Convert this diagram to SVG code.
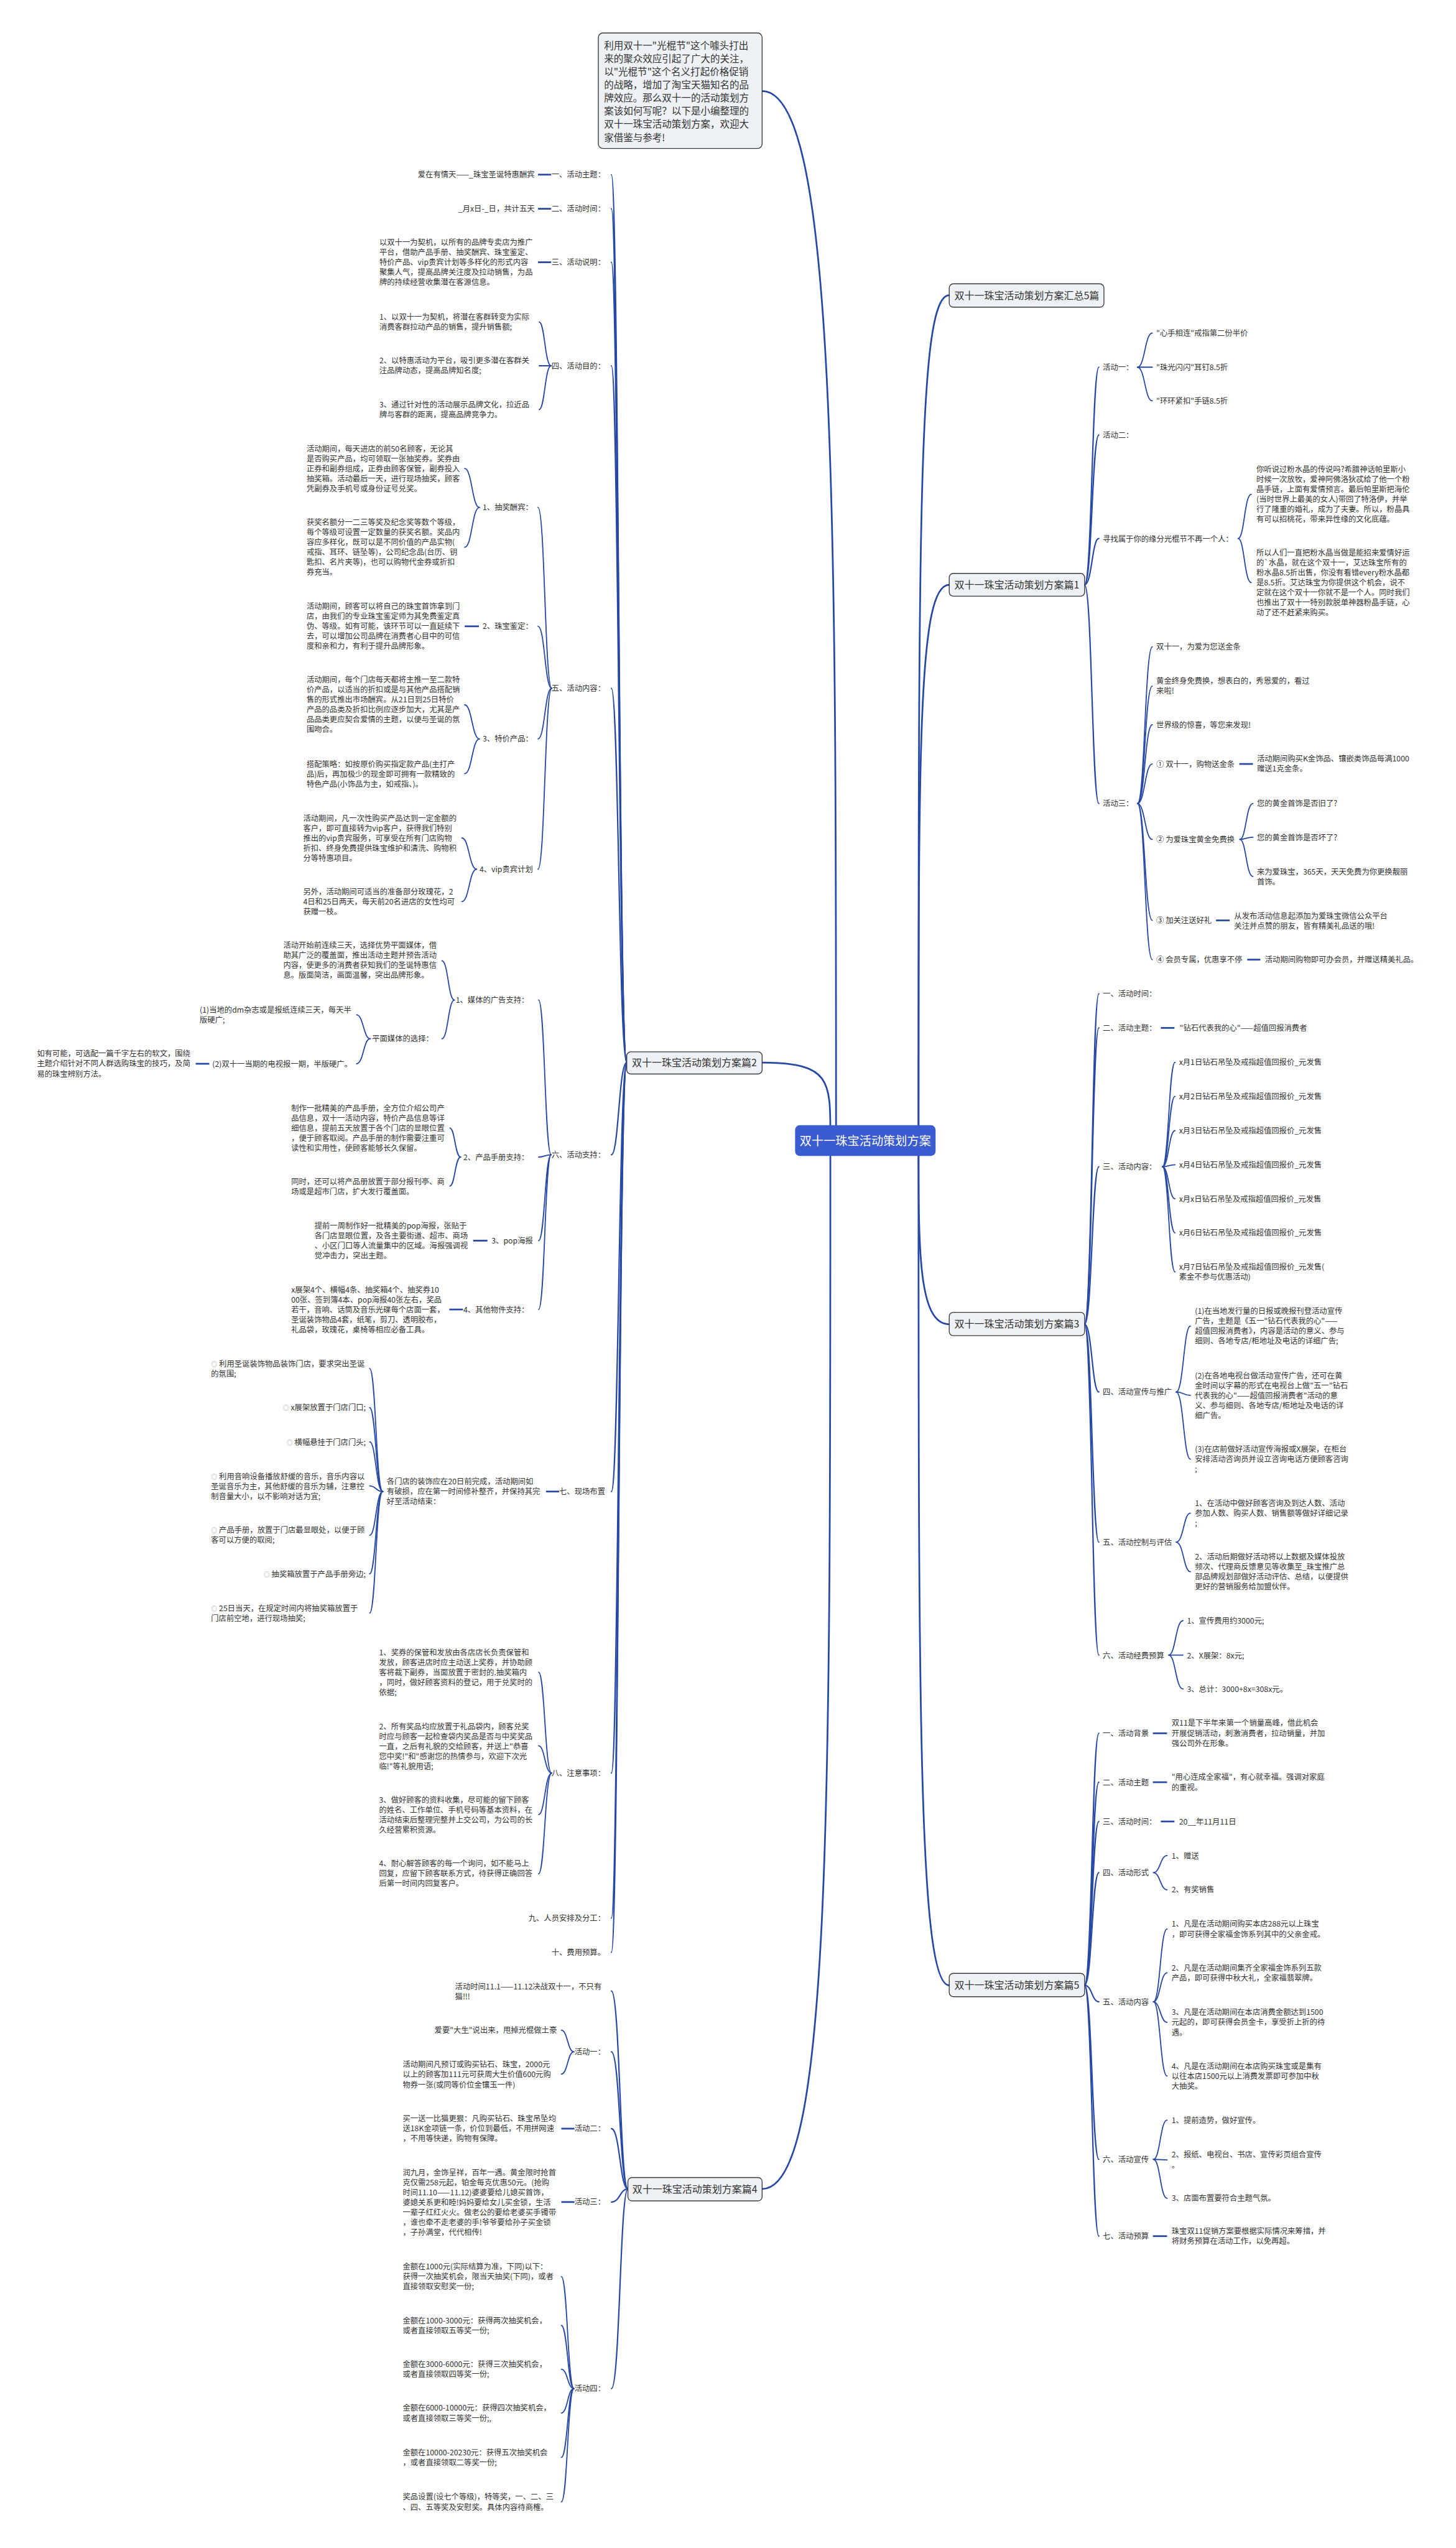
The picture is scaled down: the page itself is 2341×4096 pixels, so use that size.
<svg xmlns="http://www.w3.org/2000/svg" width="2341" height="4096" viewBox="0 0 2341 4096">
<style>
.t{font-family:"Noto Sans CJK SC","Noto Sans",sans-serif;font-size:13.5px;fill:#333}
.e{text-anchor:end}
.bt{font-family:"Noto Sans CJK SC","Noto Sans",sans-serif;font-size:17.5px;fill:#333}
.it{font-family:"Noto Sans CJK SC","Noto Sans",sans-serif;font-size:17px;fill:#333}
.ct{font-family:"Noto Sans CJK SC","Noto Sans",sans-serif;font-size:21px;fill:#fff;text-anchor:middle}
.box{fill:#eef1f5;stroke:#3a3a3a;stroke-width:1.5}
.k{fill:none;stroke:#2748a5;stroke-width:2;stroke-linecap:round}
.k0{fill:none;stroke:#2748a5;stroke-width:3;stroke-linecap:round}
.k1{fill:none;stroke:#2748a5;stroke-width:2.4;stroke-linecap:round}
.kl{fill:none;stroke:#2748a5;stroke-width:3}
.bul{fill:#aaa;font-size:11px}
</style>
<g transform="scale(0.91445)">
<rect width="2560" height="4479" fill="#fff"/>
<g id="connectors">
<path class="k0" d="M1470 2000 C1470 900 1470 160 1340 160"/>
<path class="k0" d="M1615 1995 C1615 900 1615 519 1669 519"/>
<path class="k0" d="M1615 1995 C1615 1300 1615 1028 1669 1028"/>
<path class="k0" d="M1615 2015 C1615 2200 1615 2328 1669 2328"/>
<path class="k0" d="M1615 2015 C1615 3000 1615 3490 1669 3490"/>
<path class="k0" d="M1460 1995 C1460 1900 1460 1868 1340 1868"/>
<path class="k0" d="M1460 2015 C1460 3200 1460 3848 1340 3848"/>
<!-- pian1 -->
<path class="k1" d="M1907 1028 C1920 1028 1920 645.5 1932 645.5"/>
<path class="k1" d="M1907 1028 C1920 1028 1920 764.7 1932 764.7"/>
<path class="k1" d="M1907 1028 C1920 1028 1920 946.7 1932 946.7"/>
<path class="k1" d="M1907 1028 C1920 1028 1920 1412.4 1932 1412.4"/>
<path class="k" d="M2000 645.5 C2013 645.5 2013 585.5 2026 585.5"/>
<path class="k" d="M2000 645.5 L2026 645.5"/>
<path class="k" d="M2000 645.5 C2013 645.5 2013 704.7 2026 704.7"/>
<path class="k" d="M2177 946.7 C2188 946.7 2188 869 2200 869"/>
<path class="k" d="M2177 946.7 C2188 946.7 2188 1024 2200 1024"/>
<path class="k" d="M2000 1412.4 C2013 1412.4 2013 1137 2026 1137"/>
<path class="k" d="M2000 1412.4 C2013 1412.4 2013 1206 2026 1206"/>
<path class="k" d="M2000 1412.4 C2013 1412.4 2013 1274 2026 1274"/>
<path class="k" d="M2000 1412.4 C2013 1412.4 2013 1343 2026 1343"/>
<path class="k" d="M2000 1412.4 C2013 1412.4 2013 1475.6 2026 1475.6"/>
<path class="k" d="M2000 1412.4 C2013 1412.4 2013 1618 2026 1618"/>
<path class="k" d="M2000 1412.4 C2013 1412.4 2013 1687 2026 1687"/>
<path class="kl" d="M2179 1343 L2203 1343"/>
<path class="k" d="M2180 1475.6 C2191 1475.6 2191 1412.4 2203 1412.4"/>
<path class="k" d="M2180 1475.6 C2191 1475.6 2191 1471.7 2203 1471.7"/>
<path class="k" d="M2180 1475.6 C2191 1475.6 2191 1540.7 2203 1540.7"/>
<path class="kl" d="M2138 1618 L2162 1618"/>
<path class="kl" d="M2193 1687 L2216 1687"/>
<!-- pian3 -->
<path class="k1" d="M1907 2328 C1920 2328 1920 1747 1932 1747"/>
<path class="k1" d="M1907 2328 C1920 2328 1920 1807 1932 1807"/>
<path class="k1" d="M1907 2328 C1920 2328 1920 2051 1932 2051"/>
<path class="k1" d="M1907 2328 C1920 2328 1920 2447 1932 2447"/>
<path class="k1" d="M1907 2328 C1920 2328 1920 2711 1932 2711"/>
<path class="k1" d="M1907 2328 C1920 2328 1920 2909.5 1932 2909.5"/>
<path class="kl" d="M2041 1807 L2065 1807"/>
<path class="k" d="M2044 2051 C2055 2051 2055 1867.5 2066 1867.5"/>
<path class="k" d="M2044 2051 C2055 2051 2055 1927.3 2066 1927.3"/>
<path class="k" d="M2044 2051 C2055 2051 2055 1987.5 2066 1987.5"/>
<path class="k" d="M2044 2051 C2055 2051 2055 2047.6 2066 2047.6"/>
<path class="k" d="M2044 2051 C2055 2051 2055 2107.4 2066 2107.4"/>
<path class="k" d="M2044 2051 C2055 2051 2055 2167.2 2066 2167.2"/>
<path class="k" d="M2044 2051 C2055 2051 2055 2236 2066 2236"/>
<path class="k" d="M2068 2447 C2081 2447 2081 2331 2093 2331"/>
<path class="k" d="M2068 2447 C2081 2447 2081 2453 2093 2453"/>
<path class="k" d="M2068 2447 C2081 2447 2081 2565 2093 2565"/>
<path class="k" d="M2068 2711 C2081 2711 2081 2660 2093 2660"/>
<path class="k" d="M2068 2711 C2081 2711 2081 2763 2093 2763"/>
<path class="k" d="M2055 2909.5 C2067 2909.5 2067 2849 2080 2849"/>
<path class="k" d="M2055 2909.5 L2080 2909.5"/>
<path class="k" d="M2055 2909.5 C2067 2909.5 2067 2969 2080 2969"/>
<!-- pian5 -->
<path class="k1" d="M1907 3490 C1920 3490 1920 3047 1932 3047"/>
<path class="k1" d="M1907 3490 C1920 3490 1920 3133 1932 3133"/>
<path class="k1" d="M1907 3490 C1920 3490 1920 3202 1932 3202"/>
<path class="k1" d="M1907 3490 C1920 3490 1920 3292 1932 3292"/>
<path class="k1" d="M1907 3490 C1920 3490 1920 3519 1932 3519"/>
<path class="k1" d="M1907 3490 C1920 3490 1920 3796 1932 3796"/>
<path class="k1" d="M1907 3490 C1920 3490 1920 3931 1932 3931"/>
<path class="kl" d="M2027 3047 L2052 3047"/>
<path class="kl" d="M2027 3133 L2052 3133"/>
<path class="kl" d="M2041 3202 L2065 3202"/>
<path class="k" d="M2028 3292 C2040 3292 2040 3262 2052 3262"/>
<path class="k" d="M2028 3292 C2040 3292 2040 3322 2052 3322"/>
<path class="k" d="M2028 3519 C2040 3519 2040 3391 2052 3391"/>
<path class="k" d="M2028 3519 C2040 3519 2040 3468 2052 3468"/>
<path class="k" d="M2028 3519 C2040 3519 2040 3555 2052 3555"/>
<path class="k" d="M2028 3519 C2040 3519 2040 3649.5 2052 3649.5"/>
<path class="k" d="M2028 3796 C2040 3796 2040 3727 2052 3727"/>
<path class="k" d="M2028 3796 L2052 3797"/>
<path class="k" d="M2028 3796 C2040 3796 2040 3864.5 2052 3864.5"/>
<path class="kl" d="M2027 3931 L2052 3931"/>
<!-- pian2 -->
<path class="k1" d="M1102 1868 C1088 1868 1088 307 1075 307"/>
<path class="k1" d="M1102 1868 C1088 1868 1088 367 1075 367"/>
<path class="k1" d="M1102 1868 C1088 1868 1088 461 1075 461"/>
<path class="k1" d="M1102 1868 C1088 1868 1088 643 1075 643"/>
<path class="k1" d="M1102 1868 C1088 1868 1088 1210 1075 1210"/>
<path class="k1" d="M1102 1868 C1088 1868 1088 2030 1075 2030"/>
<path class="k1" d="M1102 1868 C1088 1868 1088 2622 1075 2622"/>
<path class="k1" d="M1102 1868 C1088 1868 1088 3117 1075 3117"/>
<path class="k1" d="M1102 1868 C1088 1868 1088 3372 1075 3372"/>
<path class="k1" d="M1102 1868 C1088 1868 1088 3432 1075 3432"/>
<path class="kl" d="M969 307 L946 307"/>
<path class="kl" d="M969 367 L946 367"/>
<path class="kl" d="M969 461 L946 461"/>
<path class="k" d="M969 643 C958 643 958 566 948 566"/>
<path class="k" d="M969 643 L948 643"/>
<path class="k" d="M969 643 C958 643 958 720 948 720"/>
<path class="k" d="M970 1210 C958 1210 958 892 946 892"/>
<path class="k" d="M970 1210 C958 1210 958 1101 946 1101"/>
<path class="k" d="M970 1210 C958 1210 958 1299 946 1299"/>
<path class="k" d="M970 1210 C958 1210 958 1528 946 1528"/>
<path class="k" d="M843 892 C830 892 830 823.6 817 823.6"/>
<path class="k" d="M843 892 C830 892 830 962 817 962"/>
<path class="kl" d="M842 1101 L817 1101"/>
<path class="k" d="M843 1299 C830 1299 830 1239 817 1239"/>
<path class="k" d="M843 1299 C830 1299 830 1360 817 1360"/>
<path class="k" d="M838 1528 C825 1528 825 1473 812 1473"/>
<path class="k" d="M838 1528 C825 1528 825 1585 812 1585"/>
<path class="k" d="M969 2030 C958 2030 958 1758 947 1758"/>
<path class="k" d="M969 2030 C958 2030 958 2034 947 2034"/>
<path class="k" d="M969 2030 C958 2030 958 2181 947 2181"/>
<path class="k" d="M969 2030 C958 2030 958 2302 947 2302"/>
<path class="k" d="M799 1758 C788 1758 788 1689 777 1689"/>
<path class="k" d="M799 1758 C788 1758 788 1826 777 1826"/>
<path class="k" d="M651 1826 C639 1826 639 1784 627 1784"/>
<path class="k" d="M651 1826 C639 1826 639 1870 627 1870"/>
<path class="kl" d="M368 1870 L344 1870"/>
<path class="k" d="M810 2034 C800 2034 800 1983 791 1983"/>
<path class="k" d="M810 2034 C800 2034 800 2085 791 2085"/>
<path class="kl" d="M857 2181 L832 2181"/>
<path class="kl" d="M814 2302 L790 2302"/>
<path class="kl" d="M983 2622 L960 2622"/>
<path class="k" d="M673 2622 C661 2622 661 2405.6 650 2405.6"/>
<path class="k" d="M673 2622 C661 2622 661 2474.4 650 2474.4"/>
<path class="k" d="M673 2622 C661 2622 661 2534.5 650 2534.5"/>
<path class="k" d="M673 2622 C661 2622 661 2612 650 2612"/>
<path class="k" d="M673 2622 C661 2622 661 2699 650 2699"/>
<path class="k" d="M673 2622 C661 2622 661 2766.7 650 2766.7"/>
<path class="k" d="M673 2622 C661 2622 661 2835.7 650 2835.7"/>
<path class="k" d="M970 3117 C958 3117 958 2939.6 947 2939.6"/>
<path class="k" d="M970 3117 C958 3117 958 3069 947 3069"/>
<path class="k" d="M970 3117 C958 3117 958 3190 947 3190"/>
<path class="k" d="M970 3117 C958 3117 958 3294 947 3294"/>
<!-- pian4 -->
<path class="k1" d="M1104 3848 C1090 3848 1090 3500 1075 3500"/>
<path class="k1" d="M1104 3848 C1090 3848 1090 3607 1075 3607"/>
<path class="k1" d="M1104 3848 C1090 3848 1090 3742 1075 3742"/>
<path class="k1" d="M1104 3848 C1090 3848 1090 3871 1075 3871"/>
<path class="k1" d="M1104 3848 C1090 3848 1090 4199 1075 4199"/>
<path class="k" d="M1009 3607 C998 3607 998 3569 987 3569"/>
<path class="k" d="M1009 3607 C998 3607 998 3646 987 3646"/>
<path class="kl" d="M1010 3742 L987 3742"/>
<path class="kl" d="M1010 3871 L987 3871"/>
<path class="k" d="M1009 4199 C998 4199 998 4002 987 4002"/>
<path class="k" d="M1009 4199 C998 4199 998 4088 987 4088"/>
<path class="k" d="M1009 4199 C998 4199 998 4165 987 4165"/>
<path class="k" d="M1009 4199 C998 4199 998 4242 987 4242"/>
<path class="k" d="M1009 4199 C998 4199 998 4320 987 4320"/>
<path class="k" d="M1009 4199 C998 4199 998 4398 987 4398"/>
</g>

<g id="center"><rect x="1398" y="1978" width="247" height="54" rx="8" fill="#3b5bd0"/><text class="ct" x="1521.5" y="2013">双十一珠宝活动策划方案</text></g>

<g id="intro"><rect class="box" x="1052" y="58" width="288" height="203" rx="8"/>
<text class="it" x="1062" y="86"><tspan x="1062">利用双十一"光棍节"这个噱头打出</tspan><tspan x="1062" dy="23.1">来的聚众效应引起了广大的关注，</tspan><tspan x="1062" dy="23.1">以"光棍节"这个名义打起价格促销</tspan><tspan x="1062" dy="23.1">的战略，增加了淘宝天猫知名的品</tspan><tspan x="1062" dy="23.1">牌效应。那么双十一的活动策划方</tspan><tspan x="1062" dy="23.1">案该如何写呢？以下是小编整理的</tspan><tspan x="1062" dy="23.1">双十一珠宝活动策划方案，欢迎大</tspan><tspan x="1062" dy="23.1">家借鉴与参考!</tspan></text></g>

<g id="huizong"><rect class="box" x="1669" y="499" width="272" height="41" rx="7"/><text class="bt" x="1678" y="526">双十一珠宝活动策划方案汇总5篇</text></g>

<g id="pian1"><rect class="box" x="1669" y="1008" width="238" height="40" rx="7"/><text class="bt" x="1678" y="1034.5">双十一珠宝活动策划方案篇1</text>
<text class="t" x="1939" y="651">活动一：</text>
<text class="t" x="2033" y="591">"心手相连"戒指第二份半价</text>
<text class="t" x="2033" y="651">"珠光闪闪"耳钉8.5折</text>
<text class="t" x="2033" y="710">"环环紧扣"手链8.5折</text>
<text class="t" x="1939" y="770">活动二：</text>
<text class="t" x="1939" y="952">寻找属于你的缘分光棍节不再一个人：</text>
<text class="t" x="2209" y="830"><tspan x="2209">你听说过粉水晶的传说吗?希腊神话帕里斯小</tspan><tspan x="2209" dy="17.5">时候一次放牧，爱神阿佛洛狄忒给了他一个粉</tspan><tspan x="2209" dy="17.5">晶手链，上面有爱情预言。最后帕里斯把海伦</tspan><tspan x="2209" dy="17.5">(当时世界上最美的女人)带回了特洛伊，并举</tspan><tspan x="2209" dy="17.5">行了隆重的婚礼，成为了夫妻。所以，粉晶具</tspan><tspan x="2209" dy="17.5">有可以招桃花，带来异性缘的文化底蕴。</tspan></text>
<text class="t" x="2209" y="977"><tspan x="2209">所以人们一直把粉水晶当做是能招来爱情好运</tspan><tspan x="2209" dy="17.5">的`水晶，就在这个双十一，艾达珠宝所有的</tspan><tspan x="2209" dy="17.5">粉水晶8.5折出售，你没有看错every粉水晶都</tspan><tspan x="2209" dy="17.5">是8.5折。艾达珠宝为你提供这个机会，说不</tspan><tspan x="2209" dy="17.5">定就在这个双十一你就不是一个人。同时我们</tspan><tspan x="2209" dy="17.5">也推出了双十一特别款脱单神器粉晶手链，心</tspan><tspan x="2209" dy="17.5">动了还不赶紧来购买。</tspan></text>
<text class="t" x="1939" y="1417">活动三：</text>
<text class="t" x="2033" y="1142">双十一，为爱为您送金条</text>
<text class="t" x="2033" y="1202"><tspan x="2033">黄金终身免费换，想表白的，秀恩爱的，看过</tspan><tspan x="2033" dy="17.5">来啦!</tspan></text>
<text class="t" x="2033" y="1279">世界级的惊喜，等您来发现!</text>
<text class="t" x="2033" y="1348">① 双十一，购物送金条</text>
<text class="t" x="2210" y="1339"><tspan x="2210">活动期间购买K金饰品、镶嵌类饰品每满1000</tspan><tspan x="2210" dy="17.5">赠送1克金条。</tspan></text>
<text class="t" x="2033" y="1481">② 为爱珠宝黄金免费换</text>
<text class="t" x="2210" y="1417">您的黄金首饰是否旧了?</text>
<text class="t" x="2210" y="1477">您的黄金首饰是否坏了?</text>
<text class="t" x="2210" y="1537"><tspan x="2210">来为爱珠宝，365天，天天免费为你更换靓丽</tspan><tspan x="2210" dy="17.5">首饰。</tspan></text>
<text class="t" x="2033" y="1623">③ 加关注送好礼</text>
<text class="t" x="2170" y="1615"><tspan x="2170">从发布活动信息起添加为爱珠宝微信公众平台</tspan><tspan x="2170" dy="17.5">关注并点赞的朋友，皆有精美礼品送的哦!</tspan></text>
<text class="t" x="2033" y="1692">④ 会员专属，优惠享不停</text>
<text class="t" x="2224" y="1692">活动期间购物即可办会员，并赠送精美礼品。</text>
</g>

<g id="pian3"><rect class="box" x="1669" y="2307" width="238" height="41" rx="7"/><text class="bt" x="1678" y="2334">双十一珠宝活动策划方案篇3</text>
<text class="t" x="1939" y="1752">一、活动时间：</text>
<text class="t" x="1939" y="1812">二、活动主题：</text>
<text class="t" x="2074" y="1812">"钻石代表我的心"——超值回报消费者</text>
<text class="t" x="1939" y="2056">三、活动内容：</text>
<text class="t" x="2073" y="1872.5">x月1日钻石吊坠及戒指超值回报价_元发售</text>
<text class="t" x="2073" y="1932.3">x月2日钻石吊坠及戒指超值回报价_元发售</text>
<text class="t" x="2073" y="1992.5">x月3日钻石吊坠及戒指超值回报价_元发售</text>
<text class="t" x="2073" y="2052.6">x月4日钻石吊坠及戒指超值回报价_元发售</text>
<text class="t" x="2073" y="2112.4">x月x日钻石吊坠及戒指超值回报价_元发售</text>
<text class="t" x="2073" y="2172.2">x月6日钻石吊坠及戒指超值回报价_元发售</text>
<text class="t" x="2073" y="2232.4"><tspan x="2073">x月7日钻石吊坠及戒指超值回报价_元发售(</tspan><tspan x="2073" dy="17.5">素金不参与优惠活动)</tspan></text>
<text class="t" x="1939" y="2452">四、活动宣传与推广</text>
<text class="t" x="2101" y="2310"><tspan x="2101">(1)在当地发行量的日报或晚报刊登活动宣传</tspan><tspan x="2101" dy="17.5">广告，主题是《五一"钻石代表我的心"——</tspan><tspan x="2101" dy="17.5">超值回报消费者》，内容是活动的意义、参与</tspan><tspan x="2101" dy="17.5">细则、各地专店/柜地址及电话的详细广告;</tspan></text>
<text class="t" x="2101" y="2423"><tspan x="2101">(2)在各地电视台做活动宣传广告，还可在黄</tspan><tspan x="2101" dy="17.5">金时间以字幕的形式在电视台上做"五一"钻石</tspan><tspan x="2101" dy="17.5">代表我的心"——超值回报消费者"活动的意</tspan><tspan x="2101" dy="17.5">义、参与细则、各地专店/柜地址及电话的详</tspan><tspan x="2101" dy="17.5">细广告。</tspan></text>
<text class="t" x="2101" y="2552"><tspan x="2101">(3)在店前做好活动宣传海报或X展架，在柜台</tspan><tspan x="2101" dy="17.5">安排活动咨询员并设立咨询电话方便顾客咨询</tspan><tspan x="2101" dy="17.5">;</tspan></text>
<text class="t" x="1939" y="2716">五、活动控制与评估</text>
<text class="t" x="2101" y="2648"><tspan x="2101">1、在活动中做好顾客咨询及到达人数、活动</tspan><tspan x="2101" dy="17.5">参加人数、购买人数、销售额等做好详细记录</tspan><tspan x="2101" dy="17.5">;</tspan></text>
<text class="t" x="2101" y="2742"><tspan x="2101">2、活动后期做好活动将以上数据及媒体投放</tspan><tspan x="2101" dy="17.5">频次、代理商反馈意见等收集至_珠宝推广总</tspan><tspan x="2101" dy="17.5">部品牌规划部做好活动评估、总结，以便提供</tspan><tspan x="2101" dy="17.5">更好的营销服务给加盟伙伴。</tspan></text>
<text class="t" x="1939" y="2915">六、活动经费预算</text>
<text class="t" x="2087" y="2854">1、宣传费用约3000元;</text>
<text class="t" x="2087" y="2915">2、X展架：8x元;</text>
<text class="t" x="2087" y="2974">3、总计：3000+8x=308x元。</text>
</g>

<g id="pian5"><rect class="box" x="1669" y="3469" width="238" height="41" rx="7"/><text class="bt" x="1678" y="3496">双十一珠宝活动策划方案篇5</text>
<text class="t" x="1939" y="3052">一、活动背景</text>
<text class="t" x="2060" y="3034"><tspan x="2060">双11是下半年来第一个销量高峰，借此机会</tspan><tspan x="2060" dy="17.8">开展促销活动，刺激消费者，拉动销量，并加</tspan><tspan x="2060" dy="17.8">强公司外在形象。</tspan></text>
<text class="t" x="1939" y="3138">二、活动主题</text>
<text class="t" x="2060" y="3129"><tspan x="2060">"用心连成全家福"，有心就幸福。强调对家庭</tspan><tspan x="2060" dy="17.8">的重视。</tspan></text>
<text class="t" x="1939" y="3207">三、活动时间：</text>
<text class="t" x="2073" y="3207">20__年11月11日</text>
<text class="t" x="1939" y="3297">四、活动形式</text>
<text class="t" x="2060" y="3267">1、赠送</text>
<text class="t" x="2060" y="3327">2、有奖销售</text>
<text class="t" x="1939" y="3524">五、活动内容</text>
<text class="t" x="2060" y="3387"><tspan x="2060">1、凡是在活动期间购买本店288元以上珠宝</tspan><tspan x="2060" dy="17.8">，即可获得全家福金饰系列其中的父亲金戒。</tspan></text>
<text class="t" x="2060" y="3464"><tspan x="2060">2、凡是在活动期间集齐全家福金饰系列五款</tspan><tspan x="2060" dy="17.8">产品，即可获得中秋大礼，全家福翡翠牌。</tspan></text>
<text class="t" x="2060" y="3542"><tspan x="2060">3、凡是在活动期间在本店消费金额达到1500</tspan><tspan x="2060" dy="17.8">元起的，即可获得会员金卡，享受折上折的待</tspan><tspan x="2060" dy="17.8">遇。</tspan></text>
<text class="t" x="2060" y="3637"><tspan x="2060">4、凡是在活动期间在本店购买珠宝或是集有</tspan><tspan x="2060" dy="17.8">以往本店1500元以上消费发票即可参加中秋</tspan><tspan x="2060" dy="17.8">大抽奖。</tspan></text>
<text class="t" x="1939" y="3801">六、活动宣传</text>
<text class="t" x="2060" y="3732">1、提前造势，做好宣传。</text>
<text class="t" x="2060" y="3792"><tspan x="2060">2、报纸、电视台、书店、宣传彩页组合宣传</tspan><tspan x="2060" dy="19">。</tspan></text>
<text class="t" x="2060" y="3869.5">3、店面布置要符合主题气氛。</text>
<text class="t" x="1939" y="3936">七、活动预算</text>
<text class="t" x="2060" y="3927"><tspan x="2060">珠宝双11促销方案要根据实际情况来筹措，并</tspan><tspan x="2060" dy="17.8">将财务预算在活动工作，以免再超。</tspan></text>
</g>

<g id="pian2"><rect class="box" x="1102" y="1849" width="238" height="39" rx="7"/><text class="bt" x="1111" y="1874.5">双十一珠宝活动策划方案篇2</text>
<text class="t e" x="1064" y="312">一、活动主题：</text>
<text class="t e" x="940" y="312">爱在有情天——_珠宝圣诞特惠酬宾</text>
<text class="t e" x="1064" y="372">二、活动时间：</text>
<text class="t e" x="940" y="372">_月x日-_日，共计五天</text>
<text class="t e" x="1064" y="466">三、活动说明：</text>
<text class="t" x="667" y="431"><tspan x="667">以双十一为契机，以所有的品牌专卖店为推广</tspan><tspan x="667" dy="17.5">平台，借助产品手册、抽奖酬宾、珠宝鉴定、</tspan><tspan x="667" dy="17.5">特价产品、vip贵宾计划等多样化的形式内容</tspan><tspan x="667" dy="17.5">聚集人气，提高品牌关注度及拉动销售，为品</tspan><tspan x="667" dy="17.5">牌的持续经营收集潜在客源信息。</tspan></text>
<text class="t e" x="1064" y="648">四、活动目的：</text>
<text class="t" x="667" y="562"><tspan x="667">1、以双十一为契机，将潜在客群转变为实际</tspan><tspan x="667" dy="17.5">消费客群拉动产品的销售，提升销售额;</tspan></text>
<text class="t" x="667" y="639"><tspan x="667">2、以特惠活动为平台，吸引更多潜在客群关</tspan><tspan x="667" dy="17.5">注品牌动态，提高品牌知名度;</tspan></text>
<text class="t" x="667" y="716.5"><tspan x="667">3、通过针对性的活动展示品牌文化，拉近品</tspan><tspan x="667" dy="17.5">牌与客群的距离，提高品牌竞争力。</tspan></text>
<text class="t e" x="1064" y="1215">五、活动内容：</text>
<text class="t e" x="937" y="897">1、抽奖酬宾：</text>
<text class="t" x="539" y="794"><tspan x="539">活动期间，每天进店的前50名顾客，无论其</tspan><tspan x="539" dy="17.5">是否购买产品，均可领取一张抽奖券。奖券由</tspan><tspan x="539" dy="17.5">正券和副券组成，正券由顾客保管，副券投入</tspan><tspan x="539" dy="17.5">抽奖箱。活动最后一天，进行现场抽奖，顾客</tspan><tspan x="539" dy="17.5">凭副券及手机号或身份证号兑奖。</tspan></text>
<text class="t" x="539" y="923"><tspan x="539">获奖名额分一二三等奖及纪念奖等数个等级，</tspan><tspan x="539" dy="17.5">每个等级可设置一定数量的获奖名额。奖品内</tspan><tspan x="539" dy="17.5">容应多样化，既可以是不同价值的产品实物(</tspan><tspan x="539" dy="17.5">戒指、耳环、链坠等)，公司纪念品(台历、钥</tspan><tspan x="539" dy="17.5">匙扣、名片夹等)，也可以购物代金券或折扣</tspan><tspan x="539" dy="17.5">券充当。</tspan></text>
<text class="t e" x="937" y="1106">2、珠宝鉴定：</text>
<text class="t" x="539" y="1071"><tspan x="539">活动期间，顾客可以将自己的珠宝首饰拿到门</tspan><tspan x="539" dy="17.5">店，由我们的专业珠宝鉴定师为其免费鉴定真</tspan><tspan x="539" dy="17.5">伪、等级。如有可能，该环节可以一直延续下</tspan><tspan x="539" dy="17.5">去，可以增加公司品牌在消费者心目中的可信</tspan><tspan x="539" dy="17.5">度和亲和力，有利于提升品牌形象。</tspan></text>
<text class="t e" x="937" y="1304">3、特价产品：</text>
<text class="t" x="539" y="1200"><tspan x="539">活动期间，每个门店每天都将主推一至二款特</tspan><tspan x="539" dy="17.5">价产品，以适当的折扣或是与其他产品搭配销</tspan><tspan x="539" dy="17.5">售的形式推出市场酬宾。从21日到25日特价</tspan><tspan x="539" dy="17.5">产品的品类及折扣比例应逐步加大，尤其是产</tspan><tspan x="539" dy="17.5">品品类更应契合爱情的主题，以便与圣诞的氛</tspan><tspan x="539" dy="17.5">围吻合。</tspan></text>
<text class="t" x="539" y="1348"><tspan x="539">搭配策略：如按原价购买指定款产品(主打产</tspan><tspan x="539" dy="17.5">品)后，再加极少的现金即可拥有一款精致的</tspan><tspan x="539" dy="17.5">特色产品(小饰品为主，如戒指、)。</tspan></text>
<text class="t e" x="937" y="1533">4、vip贵宾计划</text>
<text class="t" x="533" y="1443"><tspan x="533">活动期间，凡一次性购买产品达到一定金额的</tspan><tspan x="533" dy="17.5">客户，即可直接转为vip客户，获得我们特别</tspan><tspan x="533" dy="17.5">推出的vip贵宾服务，可享受在所有门店购物</tspan><tspan x="533" dy="17.5">折扣、终身免费提供珠宝维护和清洗、购物积</tspan><tspan x="533" dy="17.5">分等特惠项目。</tspan></text>
<text class="t" x="533" y="1573"><tspan x="533">另外，活动期间可适当的准备部分玫瑰花，2</tspan><tspan x="533" dy="17.5">4日和25日两天，每天前20名进店的女性均可</tspan><tspan x="533" dy="17.5">获赠一枝。</tspan></text>
<text class="t e" x="1064" y="2035">六、活动支持：</text>
<text class="t e" x="930" y="1763">1、媒体的广告支持：</text>
<text class="t" x="498" y="1667"><tspan x="498">活动开始前连续三天，选择优势平面媒体，借</tspan><tspan x="498" dy="17.5">助其广泛的覆盖面，推出活动主题并预告活动</tspan><tspan x="498" dy="17.5">内容，使更多的消费者获知我们的圣诞特惠信</tspan><tspan x="498" dy="17.5">息。版面简洁，画面温馨，突出品牌形象。</tspan></text>
<text class="t e" x="762" y="1831">平面媒体的选择：</text>
<text class="t" x="351" y="1780.5"><tspan x="351">(1)当地的dm杂志或是报纸连续三天，每天半</tspan><tspan x="351" dy="17.5">版硬广;</tspan></text>
<text class="t e" x="619" y="1875">(2)双十一当期的电视报一期，半版硬广。</text>
<text class="t" x="65" y="1857"><tspan x="65">如有可能，可选配一篇千字左右的软文，围绕</tspan><tspan x="65" dy="17.8">主题介绍针对不同人群选购珠宝的技巧，及简</tspan><tspan x="65" dy="17.8">易的珠宝辨别方法。</tspan></text>
<text class="t e" x="930" y="2039">2、产品手册支持：</text>
<text class="t" x="512" y="1953"><tspan x="512">制作一批精美的产品手册，全方位介绍公司产</tspan><tspan x="512" dy="17.5">品信息，双十一活动内容，特价产品信息等详</tspan><tspan x="512" dy="17.5">细信息，提前五天放置于各个门店的显眼位置</tspan><tspan x="512" dy="17.5">，便于顾客取阅。产品手册的制作需要注重可</tspan><tspan x="512" dy="17.5">读性和实用性，使顾客能够长久保留。</tspan></text>
<text class="t" x="512" y="2082"><tspan x="512">同时，还可以将产品册放置于部分报刊亭、商</tspan><tspan x="512" dy="17.5">场或是超市门店，扩大发行覆盖面。</tspan></text>
<text class="t e" x="937" y="2186">3、pop海报</text>
<text class="t" x="553" y="2160"><tspan x="553">提前一周制作好一批精美的pop海报，张贴于</tspan><tspan x="553" dy="17.5">各门店显眼位置，及各主要街道、超市、商场</tspan><tspan x="553" dy="17.5">、小区门口等人流量集中的区域。海报强调视</tspan><tspan x="553" dy="17.5">觉冲击力，突出主题。</tspan></text>
<text class="t e" x="930" y="2307">4、其他物件支持：</text>
<text class="t" x="512" y="2272"><tspan x="512">x展架4个、横幅4条、抽奖箱4个、抽奖券10</tspan><tspan x="512" dy="17.5">00张、签到簿4本、pop海报40张左右，奖品</tspan><tspan x="512" dy="17.5">若干，音响、话筒及音乐光碟每个店面一套，</tspan><tspan x="512" dy="17.5">圣诞装饰物品4套，纸笔，剪刀、透明胶布，</tspan><tspan x="512" dy="17.5">礼品袋，玫瑰花，桌椅等相应必备工具。</tspan></text>
<text class="t e" x="1064" y="2627">七、现场布置</text>
<text class="t" x="680" y="2609"><tspan x="680">各门店的装饰应在20日前完成，活动期间如</tspan><tspan x="680" dy="17.5">有破损，应在第一时间修补整齐，并保持其完</tspan><tspan x="680" dy="17.5">好至活动结束：</tspan></text>
<text class="t" x="371" y="2402"><tspan x="371"><tspan class="bul">◎</tspan> 利用圣诞装饰物品装饰门店，要求突出圣诞</tspan><tspan x="371" dy="17.5">的氛围;</tspan></text>
<text class="t e" x="643" y="2479"><tspan class="bul">◎</tspan> x展架放置于门店门口;</text>
<text class="t e" x="643" y="2540"><tspan class="bul">◎</tspan> 横幅悬挂于门店门头;</text>
<text class="t" x="371" y="2600"><tspan x="371"><tspan class="bul">◎</tspan> 利用音响设备播放舒缓的音乐，音乐内容以</tspan><tspan x="371" dy="17.5">圣诞音乐为主，其他舒缓的音乐为辅，注意控</tspan><tspan x="371" dy="17.5">制音量大小，以不影响对话为宜;</tspan></text>
<text class="t" x="371" y="2695"><tspan x="371"><tspan class="bul">◎</tspan> 产品手册，放置于门店最显眼处，以便于顾</tspan><tspan x="371" dy="17.5">客可以方便的取阅;</tspan></text>
<text class="t e" x="643" y="2772"><tspan class="bul">◎</tspan> 抽奖箱放置于产品手册旁边;</text>
<text class="t" x="371" y="2832"><tspan x="371"><tspan class="bul">◎</tspan> 25日当天，在规定时间内将抽奖箱放置于</tspan><tspan x="371" dy="17.5">门店前空地，进行现场抽奖;</tspan></text>
<text class="t e" x="1064" y="3122">八、注意事项：</text>
<text class="t" x="666.5" y="2910"><tspan x="666.5">1、奖券的保管和发放由各店店长负责保管和</tspan><tspan x="666.5" dy="17.5">发放，顾客进店时应主动送上奖券，并协助顾</tspan><tspan x="666.5" dy="17.5">客将裁下副券，当面放置于密封的.抽奖箱内</tspan><tspan x="666.5" dy="17.5">，同时，做好顾客资料的登记，用于兑奖时的</tspan><tspan x="666.5" dy="17.5">依据;</tspan></text>
<text class="t" x="666.5" y="3040"><tspan x="666.5">2、所有奖品均应放置于礼品袋内，顾客兑奖</tspan><tspan x="666.5" dy="17.5">时应与顾客一起检查袋内奖品是否与中奖奖品</tspan><tspan x="666.5" dy="17.5">一直，之后有礼貌的交给顾客，并送上"恭喜</tspan><tspan x="666.5" dy="17.5">您中奖!"和"感谢您的热情参与，欢迎下次光</tspan><tspan x="666.5" dy="17.5">临!"等礼貌用语;</tspan></text>
<text class="t" x="666.5" y="3169"><tspan x="666.5">3、做好顾客的资料收集，尽可能的留下顾客</tspan><tspan x="666.5" dy="17.5">的姓名、工作单位、手机号码等基本资料，在</tspan><tspan x="666.5" dy="17.5">活动结束后整理完整并上交公司，为公司的长</tspan><tspan x="666.5" dy="17.5">久经营累积资源。</tspan></text>
<text class="t" x="666.5" y="3281"><tspan x="666.5">4、耐心解答顾客的每一个询问，如不能马上</tspan><tspan x="666.5" dy="17.5">回复，应留下顾客联系方式，待获得正确回答</tspan><tspan x="666.5" dy="17.5">后第一时间内回复客户。</tspan></text>
<text class="t e" x="1064" y="3377">九、人员安排及分工：</text>
<text class="t e" x="1064" y="3437">十、费用预算。</text>
</g>

<g id="pian4"><rect class="box" x="1104" y="3828" width="236" height="41" rx="7"/><text class="bt" x="1112" y="3855">双十一珠宝活动策划方案篇4</text>
<text class="t" x="800" y="3497"><tspan x="800">活动时间11.1——11.12决战双十一，不只有</tspan><tspan x="800" dy="17.5">猫!!!</tspan></text>
<text class="t e" x="1064" y="3612">活动一：</text>
<text class="t e" x="979" y="3574">爱要"大生"说出来，甩掉光棍做土豪</text>
<text class="t" x="708" y="3634"><tspan x="708">活动期间凡预订或购买钻石、珠宝，2000元</tspan><tspan x="708" dy="17.8">以上的顾客加111元可获周大生价值600元购</tspan><tspan x="708" dy="17.8">物券一张(或同等价位金镶玉一件)</tspan></text>
<text class="t e" x="1064" y="3747">活动二：</text>
<text class="t" x="708" y="3729"><tspan x="708">买一送一比猫更狠：凡购买钻石、珠宝吊坠均</tspan><tspan x="708" dy="17.5">送18K金项链一条，价位到最低，不用拼网速</tspan><tspan x="708" dy="17.5">，不用等快递，购物有保障。</tspan></text>
<text class="t e" x="1064" y="3876">活动三：</text>
<text class="t" x="708" y="3824"><tspan x="708">润九月，金饰呈祥，百年一遇。黄金限时抢首</tspan><tspan x="708" dy="17.5">克仅需258元起，铂金每克优惠50元。(抢购</tspan><tspan x="708" dy="17.5">时间11.10——11.12)婆婆要给儿媳买首饰，</tspan><tspan x="708" dy="17.5">婆媳关系更和睦!妈妈要给女儿买金锁，生活</tspan><tspan x="708" dy="17.5">一辈子红红火火。做老公的要给老婆买手镯带</tspan><tspan x="708" dy="17.5">，谁也牵不走老婆的手!爷爷要给孙子买金锁</tspan><tspan x="708" dy="17.5">，子孙满堂，代代相传!</tspan></text>
<text class="t e" x="1064" y="4204">活动四：</text>
<text class="t" x="708" y="3989"><tspan x="708">金额在1000元(实际结算为准，下同)以下：</tspan><tspan x="708" dy="17.5">获得一次抽奖机会，限当天抽奖(下同)，或者</tspan><tspan x="708" dy="17.5">直接领取安慰奖一份;</tspan></text>
<text class="t" x="708" y="4084"><tspan x="708">金额在1000-3000元：获得两次抽奖机会，</tspan><tspan x="708" dy="18">或者直接领取五等奖一份;</tspan></text>
<text class="t" x="708" y="4161"><tspan x="708">金额在3000-6000元：获得三次抽奖机会，</tspan><tspan x="708" dy="18">或者直接领取四等奖一份;</tspan></text>
<text class="t" x="708" y="4238"><tspan x="708">金额在6000-10000元：获得四次抽奖机会，</tspan><tspan x="708" dy="18">或者直接领取三等奖一份;,</tspan></text>
<text class="t" x="708" y="4316"><tspan x="708">金额在10000-20230元：获得五次抽奖机会</tspan><tspan x="708" dy="18">，或者直接领取二等奖一份;</tspan></text>
<text class="t" x="708" y="4394"><tspan x="708">奖品设置(设七个等级)，特等奖，一、二、三</tspan><tspan x="708" dy="18">、四、五等奖及安慰奖。具体内容待商榷。</tspan></text>
</g>
</g>
</svg>
